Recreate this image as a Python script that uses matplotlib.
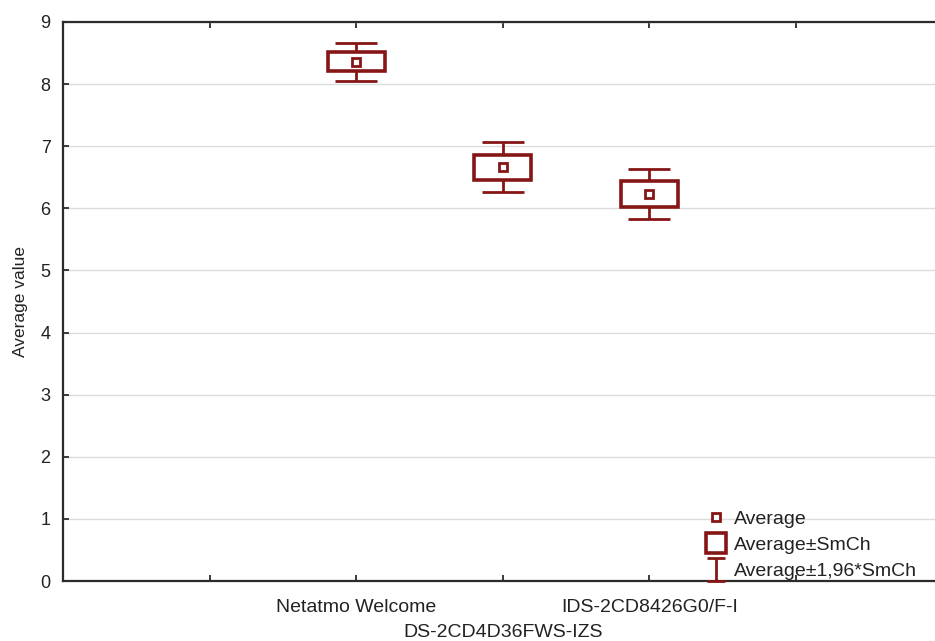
import matplotlib
matplotlib.use('Agg')
import matplotlib.pyplot as plt
from matplotlib.lines import Line2D
from matplotlib.container import ErrorbarContainer
from matplotlib.collections import LineCollection
from matplotlib.legend_handler import HandlerErrorbar
import numpy as np

plt.rcParams['font.family'] = ['Liberation Sans', 'DejaVu Sans']

devices = ['Netatmo Welcome', 'DS-2CD4D36FWS-IZS', 'IDS-2CD8426G0/F-I']
means = [8.36, 6.66, 6.23]
sem = [0.155, 0.205, 0.205]
ci_factor = 1.96

red = '#861616'
spine = '#2b2b2b'
txt = '#222222'

x = np.arange(2, 2 + len(devices))
means = np.array(means)
sem = np.array(sem)

fig = plt.figure(figsize=(9.35, 6.41), dpi=100)
ax = fig.add_axes([63 / 935, 60 / 641, 1 - 63 / 935, 559 / 641])

# whiskers (mean +- 1.96*SE)
ax.errorbar(x, means, yerr=ci_factor * sem, fmt='none', ecolor=red,
            elinewidth=2, capsize=15, capthick=2, zorder=2)
# boxes (mean +- SE)
ax.bar(x, 2 * sem, bottom=means - sem, width=0.39, facecolor='white',
       edgecolor=red, linewidth=2.6, zorder=3)
ax.plot(x, means, linestyle='none', marker='s', markersize=6,
        markerfacecolor='white', markeredgecolor=red, markeredgewidth=2,
        zorder=4)

ax.set_xlim(0, 5.95)
ax.set_ylim(0, 9)
ax.set_yticks(range(0, 10))
ax.set_xticks(range(1, 6))
ax.set_xticklabels([])
ax.grid(axis='y', color='#dcdcdc', linewidth=1)
ax.set_axisbelow(True)

# staggered category labels
for i, (xi, name) in enumerate(zip(x, devices)):
    yoff = -0.032 if i % 2 == 0 else -0.077
    ax.text(xi, yoff, name, transform=ax.get_xaxis_transform(),
            ha='center', va='top', fontsize=14, color=txt)

ax.spines['right'].set_visible(False)
for s in ['left', 'bottom', 'top']:
    ax.spines[s].set_color(spine)
    ax.spines[s].set_linewidth(1.6)
ax.tick_params(axis='both', direction='in', length=4, width=1.3,
               color=spine, labelsize=13, labelcolor=txt)
ax.tick_params(axis='x', top=True)
ax.tick_params(axis='y', pad=9)
ax.set_ylabel('Average value', fontsize=12.5, color=txt, labelpad=9)

# legend handles
h_avg = Line2D([], [], linestyle='none', marker='s', markersize=6,
               markerfacecolor='white', markeredgecolor=red,
               markeredgewidth=2, label='Average')
h_se = Line2D([], [], linestyle='none', marker='s', markersize=14,
              markerfacecolor='white', markeredgecolor=red,
              markeredgewidth=2.6, label='Average±SmCh')
cap_lines = (Line2D([], [], linestyle='none', marker='_', markersize=13,
                    markeredgewidth=2, color=red),)
bar_coll = LineCollection([], colors=red, linewidths=2)
h_ci = ErrorbarContainer((None, cap_lines, (bar_coll,)), has_yerr=True,
                         label='Average±1,96*SmCh')

ax.legend(handles=[h_avg, h_se, h_ci], loc='lower right',
          bbox_to_anchor=(0.995, -0.023), frameon=False, fontsize=14,
          handlelength=1.2, handletextpad=0.35, labelspacing=0.45,
          labelcolor=txt, borderaxespad=0.3,
          handler_map={ErrorbarContainer: HandlerErrorbar(yerr_size=0.6)})

plt.savefig('out.png', dpi=100)
plt.close()
